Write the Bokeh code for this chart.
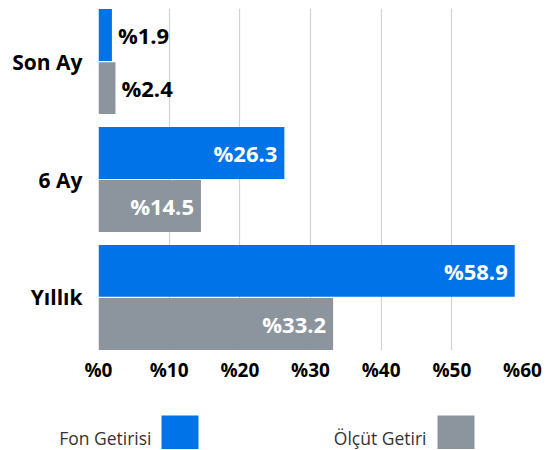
from bokeh.plotting import figure
from bokeh.models import ColumnDataSource, FactorRange, Range1d, FixedTicker
from bokeh.transform import dodge
from bokeh.core.properties import value
from bokeh.embed import file_html
from bokeh.resources import INLINE

categories = ["Son Ay", "6 Ay", "Yıllık"]
fund = [1.9, 26.3, 58.9]
benchmark = [2.4, 14.5, 33.2]
x_ticks = [0, 10, 20, 30, 40, 50, 60]
series_names = ["Fon Getirisi", "Ölçüt Getiri"]

BLUE = "#0073E8"
GRAY = "#8C959E"
FONT = "Open Sans"
INSIDE_MIN = 10  # labels of longer bars are drawn inside

p = figure(
    y_range=FactorRange(factors=list(reversed(categories)), range_padding=-0.05,
                        range_padding_units="absolute"),
    x_range=Range1d(0, 60),
    frame_width=424, frame_height=342,
    min_border_left=98, min_border_right=24, min_border_top=8, min_border_bottom=30,
    output_backend="svg", toolbar_location=None,
)
p.outline_line_color = None
p.ygrid.grid_line_color = None
p.xgrid.grid_line_color = "#d2d2d2"
p.xgrid.grid_line_width = 1.2

p.xaxis.ticker = FixedTicker(ticks=x_ticks)
p.xaxis.major_label_overrides = {t: "%" + str(t) for t in x_ticks}
for ax in (p.xaxis, p.yaxis):
    ax.axis_line_color = None
    ax.major_tick_line_color = None
    ax.minor_tick_line_color = None
    ax.major_label_text_font = FONT
    ax.major_label_text_font_style = "bold"
    ax.major_label_text_color = "#000000"
p.xaxis.major_label_text_font_size = "19px"
p.yaxis.major_label_text_font_size = "21px"
p.xaxis.major_label_standoff = 0
p.yaxis.major_label_standoff = 10

OFF = 0.225
for vals, off, color in ((fund, OFF, BLUE), (benchmark, -OFF, GRAY)):
    src = ColumnDataSource(dict(cat=categories, val=vals))
    p.hbar(y=dodge("cat", off, range=p.y_range), right="val", left=0, height=0.44,
           color=color, line_color=None, source=src)
    inside = ColumnDataSource(dict(
        cat=[c for c, v in zip(categories, vals) if v >= INSIDE_MIN],
        val=[v for v in vals if v >= INSIDE_MIN],
        lab=["%" + f"{v:.1f}" for v in vals if v >= INSIDE_MIN]))
    outside = ColumnDataSource(dict(
        cat=[c for c, v in zip(categories, vals) if v < INSIDE_MIN],
        val=[v for v in vals if v < INSIDE_MIN],
        lab=["%" + f"{v:.1f}" for v in vals if v < INSIDE_MIN]))
    p.text(x="val", y=dodge("cat", off, range=p.y_range), text="lab", source=inside,
           x_offset=-7, text_align="right", text_baseline="middle",
           text_font=value(FONT), text_font_style="bold", text_font_size="22px",
           text_color="white")
    p.text(x="val", y=dodge("cat", off, range=p.y_range), text="lab", source=outside,
           x_offset=6, text_align="left", text_baseline="middle",
           text_font=value(FONT), text_font_style="bold", text_font_size="22px",
           text_color="black")

# legend strip (label left of swatch), its own small canvas below the chart
lg = figure(x_range=Range1d(0, 546), y_range=Range1d(0, 64),
            frame_width=546, frame_height=64, min_border=0,
            output_backend="svg", toolbar_location=None)
lg.axis.visible = False
lg.grid.visible = False
lg.outline_line_color = None
lsrc = ColumnDataSource(dict(name=series_names, tx=[152, 427], bx=[179.5, 455.5],
                             col=[BLUE, GRAY]))
lg.rect(x="bx", y=15.5, width=37, height=37, color="col", line_color=None, source=lsrc)
lg.text(x="tx", y=12, text="name", source=lsrc, x_offset=-1, text_align="right",
        text_baseline="middle", text_font=value(FONT), text_font_size="17.5px",
        text_color="#333333")

open("out.html", "w").write(file_html([p, lg], INLINE))
